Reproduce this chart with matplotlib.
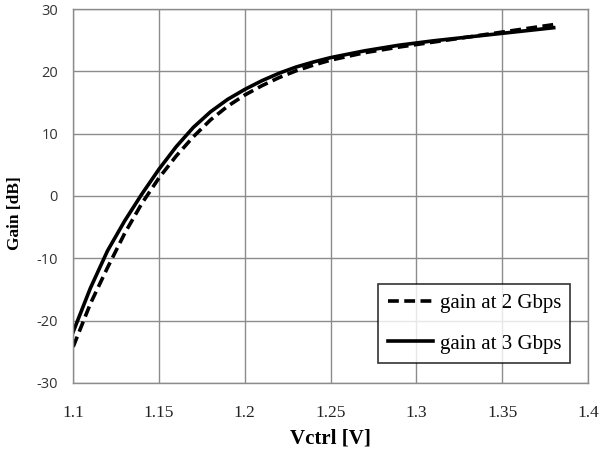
import matplotlib
matplotlib.use('Agg')
from matplotlib import pyplot as plt

# Control voltage (V)
vctrl = [1.10, 1.11, 1.12, 1.13, 1.14, 1.15, 1.16, 1.17, 1.18, 1.19, 1.20,
         1.21, 1.22, 1.23, 1.24, 1.25, 1.27, 1.29, 1.31, 1.33, 1.35, 1.37, 1.38]

# Gain (dB)
gain_2g = [-24.2, -17.3, -11.5, -6.0, -1.2, 2.9, 6.4, 9.5, 12.2, 14.4, 16.2,
           17.7, 19.0, 20.1, 21.0, 21.8, 23.0, 23.9, 24.7, 25.5, 26.3, 27.1, 27.5]
gain_3g = [-21.8, -14.8, -8.8, -4.0, 0.3, 4.3, 7.9, 11.0, 13.5, 15.5, 17.1,
           18.5, 19.7, 20.7, 21.5, 22.2, 23.3, 24.2, 24.9, 25.5, 26.1, 26.7, 27.0]

xticks = [1.1, 1.15, 1.2, 1.25, 1.3, 1.35, 1.4]
xtick_labels = ['1.1', '1.15', '1.2', '1.25', '1.3', '1.35', '1.4']
yticks = [-30, -20, -10, 0, 10, 20, 30]

serif = 'Liberation Serif'

fig = plt.figure(figsize=(6, 4.51), dpi=100)
ax = fig.add_axes([0.122, 0.151, 0.858, 0.829])

ax.plot(vctrl, gain_2g, color='black', linestyle=(0, (3, 1.5)), linewidth=2.6,
        label='gain at 2 Gbps')
ax.plot(vctrl, gain_3g, color='black', linestyle='-', linewidth=2.6,
        label='gain at 3 Gbps')

ax.set_xlim(1.1, 1.4)
ax.set_ylim(-30, 30)
ax.set_xticks(xticks)
ax.set_xticklabels(xtick_labels, fontfamily=serif, fontsize=12.5, color='#222222')
ax.set_yticks(yticks)
ax.set_yticklabels([str(t) for t in yticks], fontfamily='Open Sans', fontsize=10.5,
                   color='#333333')
ax.tick_params(axis='y', length=0, pad=11)
ax.tick_params(axis='x', length=0, pad=16)

ax.grid(True, color='#8c8c8c', linewidth=1)
ax.set_axisbelow(True)
for s in ax.spines.values():
    s.set_color('#8c8c8c')
    s.set_linewidth(1)

ax.set_xlabel('Vctrl [V]', fontfamily=serif, fontweight='bold', fontsize=15, labelpad=5)
ax.set_ylabel('Gain [dB]', fontfamily=serif, fontweight='bold', fontsize=12.5)
ax.yaxis.set_label_coords(-0.097, 0.455)

leg = ax.legend(loc='lower right', bbox_to_anchor=(0.966, 0.053), prop={'family': serif, 'size': 15},
                frameon=True, fancybox=False, edgecolor='black', handlelength=2.2,
                handletextpad=0.3, borderpad=0.45, labelspacing=1.0, borderaxespad=0)
leg.get_frame().set_linewidth(1.2)

fig.savefig('out.png', dpi=100)
